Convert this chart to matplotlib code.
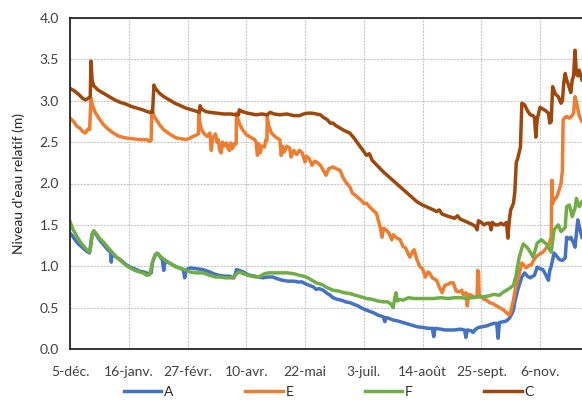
import matplotlib
matplotlib.use("Agg")
import matplotlib.pyplot as plt
from matplotlib.lines import Line2D

plt.rcParams['font.family'] = ['Lato', 'DejaVu Sans']

# Day offsets from 5 Dec, values in m
tick_days = [0, 42, 84, 126, 168, 210, 252, 294, 336]
tick_labels = ["5-déc.", "16-janv.", "27-févr.", "10-avr.", "22-mai", "3-juil.", "14-août", "25-sept.", "6-nov."]
y_ticks = [0.0, 0.5, 1.0, 1.5, 2.0, 2.5, 3.0, 3.5, 4.0]

C_days = [0, 3, 6, 9, 11, 13, 14.5, 15, 15.8, 17, 20, 24, 28, 32, 36, 40, 44, 48, 52, 55, 57, 59, 60, 61, 64, 67, 71, 75, 79, 83, 87, 91, 92.5, 93, 94, 97, 100, 105, 110, 115, 119, 120.5, 121, 123, 127, 130, 133, 137, 141, 143, 146, 150, 155, 160, 164, 167, 170, 173, 176, 179, 181, 184, 186, 188, 190, 193, 196, 200, 203, 206, 209, 212, 214, 216, 220, 224, 228, 232, 236, 240, 244, 248, 252, 256, 260, 262, 264, 266, 271, 275, 277, 279, 283, 287, 290, 291, 292, 294, 296, 298, 300, 301, 302, 304, 306, 308, 310, 312, 313, 314, 315, 316, 317, 318, 319, 320, 322, 323, 325, 327, 329, 331, 332, 333, 334, 336, 338, 340, 342, 343, 344, 345, 347, 349, 351, 352, 353, 354, 355, 356, 357, 358, 359, 360, 361, 362, 363, 364, 366]
C_vals = [3.15, 3.12, 3.08, 3.03, 3.01, 3.03, 3.05, 3.48, 3.25, 3.18, 3.13, 3.09, 3.05, 3.01, 2.98, 2.96, 2.93, 2.91, 2.89, 2.87, 2.86, 2.86, 3.19, 3.15, 3.09, 3.05, 3.01, 2.97, 2.94, 2.91, 2.89, 2.87, 2.86, 2.94, 2.90, 2.87, 2.86, 2.85, 2.84, 2.84, 2.83, 2.83, 2.89, 2.87, 2.85, 2.84, 2.83, 2.84, 2.83, 2.86, 2.84, 2.83, 2.84, 2.82, 2.82, 2.84, 2.85, 2.85, 2.84, 2.83, 2.80, 2.77, 2.73, 2.73, 2.70, 2.67, 2.64, 2.61, 2.55, 2.48, 2.41, 2.34, 2.36, 2.28, 2.21, 2.14, 2.08, 2.02, 1.96, 1.90, 1.84, 1.78, 1.74, 1.71, 1.68, 1.66, 1.68, 1.63, 1.60, 1.58, 1.61, 1.57, 1.54, 1.51, 1.48, 1.44, 1.55, 1.53, 1.50, 1.52, 1.52, 1.44, 1.53, 1.50, 1.50, 1.52, 1.50, 1.53, 1.34, 1.55, 1.68, 1.72, 1.76, 1.90, 2.25, 2.30, 2.44, 2.97, 2.95, 2.88, 2.83, 2.82, 2.80, 2.56, 2.78, 2.92, 2.90, 2.88, 2.85, 2.73, 2.75, 3.17, 3.08, 3.05, 2.97, 3.00, 3.22, 3.33, 3.25, 3.21, 3.15, 3.10, 3.25, 3.30, 3.61, 3.33, 3.30, 3.37, 3.25]

E_days = [0, 3, 5, 7, 9, 11, 12, 13, 14, 15, 16, 18, 21, 24, 27, 31, 35, 40, 45, 50, 55, 57, 58, 58.5, 60, 61, 64, 67, 71, 76, 80, 83, 86, 88, 91, 91.8, 92, 93, 94, 96, 98, 100, 101, 102, 104, 105, 106, 107, 108, 109, 110, 112, 113, 114, 115, 116, 118, 118.8, 119, 120, 121, 123, 126, 129, 132, 133, 134, 135, 136, 137, 139, 140, 140.8, 141, 142, 144, 147, 150, 151, 152, 153, 155, 157, 158, 160, 162, 164, 166, 168, 169, 171, 173, 175, 177, 179, 181, 183, 185, 188, 190, 193, 195, 197, 200, 202, 204, 205, 208, 210, 212, 214, 217, 219, 221, 222, 223, 224, 226, 228, 230, 231, 233, 236, 238, 240, 242, 243, 245, 246, 248, 250, 252, 254, 256, 257, 259, 262, 264, 266, 268, 270, 272, 274, 276, 278, 280, 281, 283, 284, 285, 287, 289, 291, 291.5, 292, 292.5, 294, 296, 298, 300, 302, 304, 306, 308, 310, 312, 314, 315, 317, 318, 319, 321, 323, 325, 326, 328, 330, 331, 333, 335, 338, 340, 342, 343, 344, 344.5, 345, 346, 348, 350, 351, 352, 352.5, 354, 355, 357, 358, 360, 361, 362, 364, 366]
E_vals = [2.79, 2.74, 2.69, 2.67, 2.63, 2.61, 2.64, 2.66, 2.65, 3.03, 2.95, 2.86, 2.78, 2.71, 2.66, 2.61, 2.57, 2.55, 2.54, 2.53, 2.53, 2.51, 2.52, 2.89, 2.82, 2.79, 2.71, 2.65, 2.60, 2.55, 2.54, 2.53, 2.55, 2.57, 2.59, 2.60, 2.86, 2.72, 2.65, 2.60, 2.57, 2.61, 2.40, 2.55, 2.60, 2.50, 2.53, 2.40, 2.37, 2.50, 2.45, 2.49, 2.42, 2.40, 2.49, 2.42, 2.49, 2.48, 2.85, 2.78, 2.73, 2.66, 2.59, 2.56, 2.53, 2.50, 2.34, 2.48, 2.37, 2.45, 2.44, 2.53, 2.52, 2.81, 2.70, 2.61, 2.56, 2.53, 2.34, 2.45, 2.38, 2.45, 2.43, 2.32, 2.40, 2.35, 2.40, 2.37, 2.26, 2.33, 2.30, 2.22, 2.27, 2.25, 2.22, 2.16, 2.10, 2.18, 2.20, 2.18, 2.16, 2.08, 2.02, 1.96, 1.88, 1.86, 1.84, 1.80, 1.76, 1.76, 1.72, 1.67, 1.64, 1.52, 1.45, 1.35, 1.46, 1.44, 1.40, 1.32, 1.38, 1.35, 1.32, 1.24, 1.22, 1.14, 1.11, 1.18, 1.20, 1.08, 1.00, 0.97, 0.87, 0.93, 0.92, 0.86, 0.83, 0.75, 0.68, 0.77, 0.78, 0.80, 0.80, 0.70, 0.69, 0.71, 0.66, 0.68, 0.52, 0.66, 0.65, 0.62, 0.63, 0.95, 0.93, 0.66, 0.63, 0.60, 0.59, 0.56, 0.55, 0.53, 0.51, 0.49, 0.47, 0.44, 0.41, 0.45, 0.59, 0.70, 0.77, 0.90, 1.04, 1.00, 0.98, 1.01, 1.02, 1.06, 1.11, 1.14, 1.17, 1.21, 1.26, 1.30, 1.35, 2.04, 1.76, 1.80, 1.84, 1.94, 2.00, 2.16, 2.77, 2.80, 2.81, 2.79, 2.80, 2.85, 3.05, 2.98, 2.82, 2.75]

A_days = [0, 2, 4, 6, 8, 10, 12, 14, 15, 16, 17, 18, 21, 24, 27, 29, 29.5, 30, 33, 36, 40, 43, 46, 50, 53, 56, 58, 59, 61, 63, 65, 66, 67, 68, 71, 74, 78, 81, 82, 83, 86, 90, 95, 100, 104, 107, 110, 114, 117, 118, 119, 121, 124, 127, 129, 132, 135, 138, 141, 145, 148, 152, 156, 160, 163, 166, 168, 171, 174, 176, 178, 181, 184, 186, 188, 191, 194, 197, 200, 203, 206, 209, 212, 215, 218, 220, 222, 224, 225, 226, 228, 231, 234, 236, 240, 244, 248, 252, 256, 259, 260, 261, 265, 268, 271, 275, 279, 282, 283, 284, 287, 288, 290, 292, 295, 298, 301, 303, 305, 306, 307, 310, 312, 314, 316, 317, 318, 320, 323, 325, 327, 329, 331, 332, 334, 336, 338, 340, 342, 343, 344, 346, 348, 350, 352, 354, 355, 357, 358, 360, 361, 362, 363, 364, 366]
A_vals = [1.40, 1.36, 1.31, 1.27, 1.24, 1.21, 1.18, 1.16, 1.30, 1.40, 1.42, 1.40, 1.32, 1.26, 1.20, 1.17, 1.05, 1.15, 1.11, 1.08, 1.02, 0.99, 0.97, 0.94, 0.93, 0.91, 0.92, 1.05, 1.14, 1.15, 1.10, 1.08, 0.95, 1.06, 1.04, 1.01, 0.98, 0.96, 0.86, 0.96, 0.98, 0.97, 0.96, 0.93, 0.90, 0.89, 0.88, 0.88, 0.86, 0.90, 0.96, 0.95, 0.93, 0.90, 0.89, 0.88, 0.87, 0.86, 0.87, 0.87, 0.85, 0.83, 0.82, 0.82, 0.81, 0.81, 0.79, 0.77, 0.75, 0.72, 0.73, 0.71, 0.67, 0.65, 0.62, 0.60, 0.59, 0.57, 0.56, 0.54, 0.52, 0.49, 0.47, 0.45, 0.43, 0.41, 0.40, 0.39, 0.33, 0.38, 0.37, 0.35, 0.34, 0.33, 0.31, 0.29, 0.27, 0.26, 0.25, 0.25, 0.15, 0.25, 0.24, 0.23, 0.23, 0.23, 0.24, 0.23, 0.14, 0.23, 0.22, 0.20, 0.24, 0.26, 0.27, 0.28, 0.30, 0.31, 0.31, 0.13, 0.32, 0.33, 0.34, 0.37, 0.43, 0.47, 0.57, 0.71, 0.87, 0.92, 0.88, 0.86, 0.88, 0.89, 0.99, 0.97, 0.96, 0.90, 0.83, 0.95, 1.00, 1.16, 1.12, 1.08, 1.07, 1.10, 1.35, 1.33, 1.35, 1.28, 1.23, 1.40, 1.56, 1.48, 1.35]

F_days = [0, 2, 4, 6, 8, 10, 12, 14, 15, 16, 17, 19, 21, 24, 27, 31, 34, 38, 41, 45, 48, 52, 55, 57, 59, 61, 62, 64, 66, 70, 73, 76, 80, 83, 86, 90, 95, 100, 104, 107, 111, 114, 117, 119, 121, 124, 127, 130, 133, 136, 139, 142, 146, 150, 155, 160, 164, 167, 170, 173, 176, 180, 184, 188, 192, 196, 200, 204, 208, 212, 216, 220, 224, 227, 229, 231, 232, 233, 234, 236, 238, 242, 246, 250, 255, 260, 265, 270, 275, 280, 283, 287, 291, 295, 299, 303, 307, 310, 312, 314, 317, 319, 321, 323, 324, 326, 328, 331, 333, 334, 337, 339, 341, 343, 344, 346, 349, 351, 353, 354, 355, 357, 359, 361, 362, 364, 366]
F_vals = [1.54, 1.45, 1.39, 1.33, 1.28, 1.24, 1.20, 1.17, 1.25, 1.40, 1.43, 1.39, 1.34, 1.29, 1.23, 1.15, 1.10, 1.04, 1.00, 0.96, 0.94, 0.92, 0.89, 0.90, 1.05, 1.14, 1.16, 1.13, 1.10, 1.05, 1.02, 0.99, 0.97, 0.95, 0.93, 0.92, 0.92, 0.89, 0.87, 0.87, 0.86, 0.86, 0.86, 0.91, 0.93, 0.91, 0.89, 0.88, 0.87, 0.88, 0.91, 0.92, 0.92, 0.92, 0.92, 0.91, 0.89, 0.88, 0.86, 0.83, 0.80, 0.78, 0.74, 0.71, 0.70, 0.68, 0.67, 0.65, 0.63, 0.61, 0.60, 0.58, 0.57, 0.57, 0.55, 0.50, 0.60, 0.68, 0.58, 0.60, 0.59, 0.62, 0.61, 0.61, 0.61, 0.61, 0.62, 0.61, 0.62, 0.62, 0.61, 0.62, 0.63, 0.63, 0.64, 0.66, 0.65, 0.69, 0.71, 0.73, 0.77, 0.90, 1.10, 1.22, 1.27, 1.24, 1.20, 1.11, 1.22, 1.28, 1.32, 1.29, 1.26, 1.20, 1.17, 1.44, 1.50, 1.42, 1.45, 1.47, 1.72, 1.74, 1.60, 1.70, 1.82, 1.72, 1.78]

series = [("A", A_days, A_vals, "#4472C4"),
          ("E", E_days, E_vals, "#ED7D31"),
          ("F", F_days, F_vals, "#70AD47"),
          ("C", C_days, C_vals, "#9E480E")]

fig = plt.figure(figsize=(5.82, 4.0), dpi=100)
ax = fig.add_axes([70/582, 51/400, 512/582, 331/400])

for name, d, v, col in series:
    ax.plot(d, v, color=col, lw=2.5, solid_joinstyle='round', label=name)

ax.set_xlim(0, 366)
ax.set_ylim(0, 4.0)
ax.set_xticks(tick_days)
ax.set_xticklabels(tick_labels)
ax.set_yticks(y_ticks)
ax.set_yticklabels([f"{t:.1f}" for t in y_ticks])
ax.tick_params(length=0, labelsize=10, colors="#404040", pad=8)
ax.tick_params(axis='x', pad=12)
ax.grid(True, color="#C8C8C8", lw=0.8, ls=(0, (2, 1)))
ax.set_axisbelow(True)
for s in ["left", "bottom", "top"]:
    ax.spines[s].set_color("#262626")
    ax.spines[s].set_linewidth(1.3)
ax.spines["right"].set_visible(False)
ax.set_ylabel("Niveau d'eau relatif (m)", fontsize=10, color="#262626", labelpad=10)

handles = [Line2D([], [], color=c, lw=2.5) for _, _, _, c in series]
fig.legend(handles, [s[0] for s in series], loc="center", ncol=4,
           bbox_to_anchor=(0.565, 0.02), frameon=False, fontsize=10,
           handlelength=2.7, handletextpad=0.2, columnspacing=5.15,
           labelcolor="#262626")

fig.savefig("out.png", dpi=100)
